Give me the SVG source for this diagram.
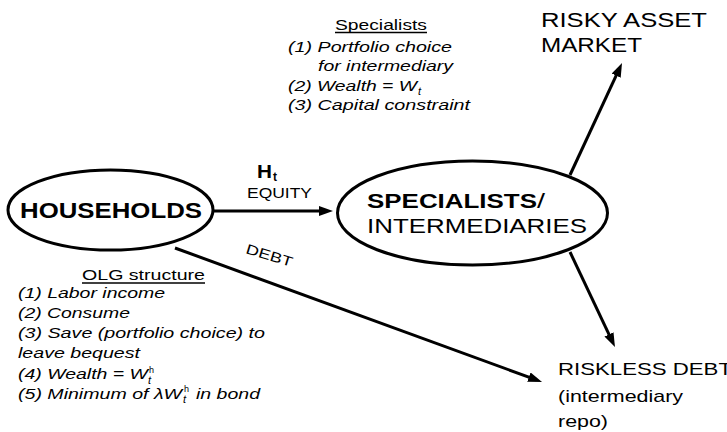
<svg xmlns="http://www.w3.org/2000/svg" width="727" height="432" viewBox="0 0 727 432">
<style>
text{font-family:"Liberation Sans",Arial,Helvetica,sans-serif;fill:#000}
.node{fill:none;stroke:#000;stroke-width:3}
.edge{stroke:#000;stroke-width:3;fill:none}
.note{font-size:15px;font-style:italic}
.big{font-size:20px}
.b{font-weight:bold}
.ul{stroke:#000;stroke-width:1.4}
</style>
<defs>
<marker id="ah" markerUnits="userSpaceOnUse" markerWidth="14" markerHeight="10" refX="8" refY="5" orient="auto">
<path d="M0,0 L14,5 L0,10 z" fill="#000"/>
</marker>
</defs>
<rect width="727" height="432" fill="#fff"/>

<g id="connectors">
<line class="edge" x1="213" y1="211" x2="327" y2="211" marker-end="url(#ah)"/>
<line class="edge" x1="175" y1="248" x2="536.4" y2="379.9" marker-end="url(#ah)"/>
<line class="edge" x1="570" y1="175" x2="619.5" y2="68.4" marker-end="url(#ah)"/>
<line class="edge" x1="570" y1="252" x2="612.4" y2="341.6" marker-end="url(#ah)"/>
<text x="257" y="178" font-size="19" class="b" textLength="15" lengthAdjust="spacingAndGlyphs">H</text>
<text x="273" y="180.5" font-size="12" class="b">t</text>
<text x="247" y="198" font-size="15" textLength="65" lengthAdjust="spacingAndGlyphs">EQUITY</text>
<text x="268" y="260" font-size="14" text-anchor="middle" textLength="48" lengthAdjust="spacingAndGlyphs" transform="rotate(17 268 260)">DEBT</text>
</g>

<g id="households">
<ellipse class="node" cx="110.5" cy="210" rx="102.5" ry="40"/>
<text x="20" y="218" font-size="22" class="b" textLength="182" lengthAdjust="spacingAndGlyphs">HOUSEHOLDS</text>
</g>

<g id="specialists">
<ellipse class="node" cx="472.5" cy="213" rx="135" ry="52"/>
<text x="367" y="208" class="big b" textLength="170" lengthAdjust="spacingAndGlyphs">SPECIALISTS</text>
<text x="537" y="208" class="big" textLength="8" lengthAdjust="spacingAndGlyphs">/</text>
<text x="367" y="233" class="big" textLength="220" lengthAdjust="spacingAndGlyphs">INTERMEDIARIES</text>
</g>

<g id="risky-asset-market">
<text x="541" y="27" class="big" textLength="166" lengthAdjust="spacingAndGlyphs">RISKY ASSET</text>
<text x="541" y="52" class="big" textLength="101" lengthAdjust="spacingAndGlyphs">MARKET</text>
</g>

<g id="riskless-debt">
<text x="558" y="375" font-size="17" textLength="174" lengthAdjust="spacingAndGlyphs">RISKLESS DEBT</text>
<text x="558" y="402" font-size="17" textLength="125" lengthAdjust="spacingAndGlyphs">(intermediary</text>
<text x="558" y="427" font-size="17" textLength="50" lengthAdjust="spacingAndGlyphs">repo)</text>
</g>

<g id="specialists-notes">
<text x="335" y="30" font-size="15" textLength="92" lengthAdjust="spacingAndGlyphs">Specialists</text>
<line class="ul" x1="335" y1="32.5" x2="427" y2="32.5"/>
<text x="288" y="52" class="note" textLength="164" lengthAdjust="spacingAndGlyphs">(1) Portfolio choice</text>
<text x="318" y="71" class="note" textLength="135" lengthAdjust="spacingAndGlyphs">for intermediary</text>
<text x="288" y="91" class="note" textLength="129" lengthAdjust="spacingAndGlyphs">(2) Wealth = W</text>
<text x="418" y="95" font-size="11" font-style="italic">t</text>
<text x="288" y="110" class="note" textLength="182" lengthAdjust="spacingAndGlyphs">(3) Capital constraint</text>
</g>

<g id="olg-notes">
<text x="82" y="280" font-size="15" textLength="123" lengthAdjust="spacingAndGlyphs">OLG structure</text>
<line class="ul" x1="82" y1="283" x2="205" y2="283"/>
<text x="18" y="298" class="note" textLength="147" lengthAdjust="spacingAndGlyphs">(1) Labor income</text>
<text x="18" y="318" class="note" textLength="112" lengthAdjust="spacingAndGlyphs">(2) Consume</text>
<text x="18" y="338" class="note" textLength="247" lengthAdjust="spacingAndGlyphs">(3) Save (portfolio choice) to</text>
<text x="18" y="358" class="note" textLength="122" lengthAdjust="spacingAndGlyphs">leave bequest</text>
<text x="18" y="379" class="note" textLength="130" lengthAdjust="spacingAndGlyphs">(4) Wealth = W</text>
<text x="149" y="373" font-size="9">h</text>
<text x="148" y="384" font-size="11" font-style="italic">t</text>
<text x="18" y="399" class="note" textLength="164" lengthAdjust="spacingAndGlyphs">(5) Minimum of λW</text>
<text x="184" y="392" font-size="9">h</text>
<text x="183" y="403" font-size="11" font-style="italic">t</text>
<text x="196" y="399" class="note" textLength="64" lengthAdjust="spacingAndGlyphs">in bond</text>
</g>
</svg>
